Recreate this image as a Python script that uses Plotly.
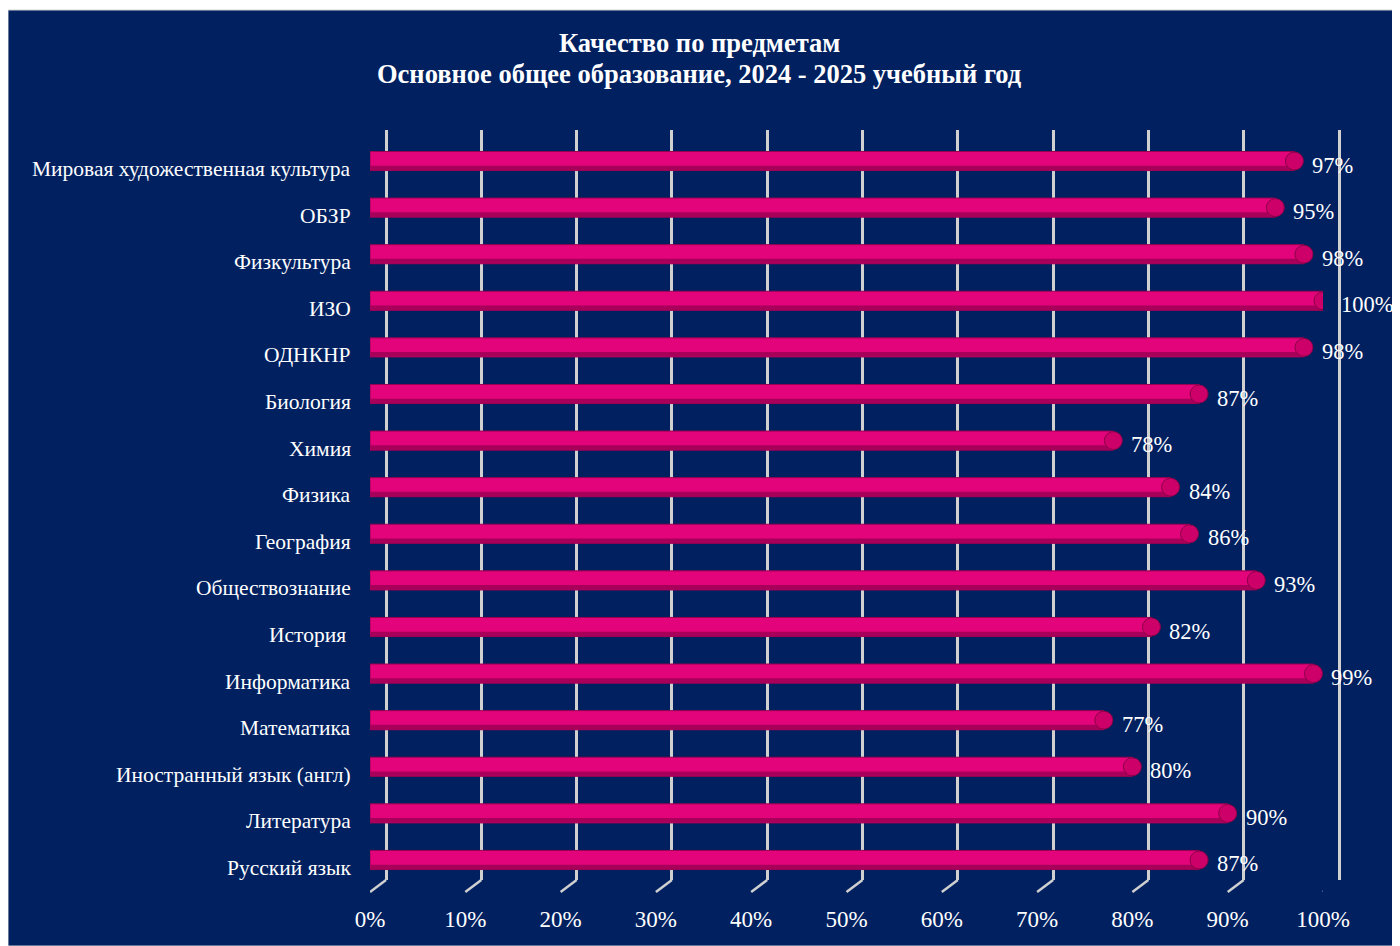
import plotly.graph_objects as go

# categories listed bottom -> top, as in the chart
subjects = [
    "Русский язык",
    "Литература",
    "Иностранный язык (англ)",
    "Математика",
    "Информатика",
    "История\u00a0",
    "Обществознание",
    "География",
    "Физика",
    "Химия",
    "Биология",
    "ОДНКНР",
    "ИЗО",
    "Физкультура",
    "ОБЗР",
    "Мировая художественная культура",
]
quality = [87, 90, 80, 77, 99, 82, 93, 86, 84, 78, 87, 98, 100, 98, 95, 97]
tick_vals = [0, 10, 20, 30, 40, 50, 60, 70, 80, 90, 100]
tick_text = ["0%", "10%", "20%", "30%", "40%", "50%", "60%", "70%", "80%", "90%", "100%"]

title_1 = "Качество по предметам"
title_2 = "Основное общее образование, 2024 - 2025 учебный год"

# figure starts after the page's 8px body margin and runs to the window edge
OFF = 8
W, H = 1400 - OFF, 946 - OFF
BG = "#002060"
GRID = "#D0D0D0"
FONT = "Liberation Serif, Times New Roman, serif"
PX10 = 95.3  # pixels per 10 %


def px_x(x):
    return (x - OFF) / W


def px_y(y):
    return 1 - (y - OFF) / H


fig = go.Figure()

# invisible trace so the back-wall grid subplot (x/y) is drawn first
fig.add_trace(go.Scatter(
    x=[0, 100], y=[0, 1], mode="markers", marker=dict(opacity=0),
    hoverinfo="skip", xaxis="x", yaxis="y",
))

# cylinder-ish bars: body, lower shade, end caps
fig.add_trace(go.Bar(
    y=subjects, x=quality, orientation="h",
    width=0.41, offset=-0.205,
    marker=dict(color="#E3047B", line=dict(color="#9A0050", width=1)),
    hoverinfo="skip", xaxis="x2", yaxis="y2",
))
fig.add_trace(go.Bar(
    y=subjects, x=quality, orientation="h",
    width=0.1, offset=-0.2,
    marker=dict(color="#A8005A", line=dict(width=0)),
    hoverinfo="skip", xaxis="x2", yaxis="y2",
))
fig.add_trace(go.Scatter(
    y=subjects, x=quality, mode="markers",
    marker=dict(symbol="circle", size=18, color="#CC0068",
                line=dict(color="#8B0047", width=1)),
    hoverinfo="skip", xaxis="x2", yaxis="y2",
))

annotations = []
# category labels (sit a little below the bar centres, like the 3D floor)
for s in subjects:
    annotations.append(dict(
        x=px_x(353), xref="paper", xanchor="right",
        y=s, yref="y2", yanchor="middle", yshift=-8,
        text=s, showarrow=False,
        font=dict(family=FONT, size=21.5, color="white"),
    ))
# value labels
for s, v in zip(subjects, quality):
    annotations.append(dict(
        x=v, xref="x2", xanchor="left", xshift=16,
        y=s, yref="y2", yanchor="middle", yshift=-4,
        text=f"{v}%", showarrow=False,
        font=dict(family=FONT, size=22.5, color="white"),
    ))
# titles
annotations.append(dict(
    x=px_x(699), y=px_y(43), xref="paper", yref="paper",
    xanchor="center", yanchor="middle",
    text=f"<b>{title_1}</b>", showarrow=False,
    font=dict(family=FONT, size=26.5, color="white"),
))
annotations.append(dict(
    x=px_x(699), y=px_y(74), xref="paper", yref="paper",
    xanchor="center", yanchor="middle",
    text=f"<b>{title_2}</b>", showarrow=False,
    font=dict(family=FONT, size=26.5, color="white"),
))

shapes = [
    # navy chart area
    dict(type="rect", xref="paper", yref="paper",
         x0=px_x(8), x1=1, y0=0, y1=px_y(10),
         fillcolor=BG, line=dict(color="#D0D0D0", width=1), layer="below"),
]
# floor diagonals from front tick to the back-wall gridline
for t in tick_vals:
    shapes.append(dict(
        type="line", xref="x2", xsizemode="pixel", xanchor=t,
        x0=0, x1=16,
        yref="paper", ysizemode="pixel", yanchor=px_y(892),
        y0=0, y1=12,
        line=dict(color=GRID, width=2.5),
    ))

fig.update_layout(
    width=W, height=H,
    margin=dict(l=0, r=0, t=0, b=0, autoexpand=False),
    paper_bgcolor="white",
    plot_bgcolor="rgba(0,0,0,0)",
    barmode="overlay",
    showlegend=False,
    # back wall gridlines (range padded so 0 % and 100 % lines are drawn)
    xaxis=dict(
        domain=[px_x(386 - PX10 / 10), px_x(1339 + PX10 / 10)],
        range=[-1, 101], anchor="y", automargin=False,
        tickvals=tick_vals, showticklabels=False,
        showgrid=True, gridcolor=GRID, gridwidth=2.5,
        zeroline=False, showline=False,
    ),
    yaxis=dict(
        domain=[px_y(880), px_y(130)], range=[0, 1], anchor="x",
        automargin=False,
        showticklabels=False, showgrid=False, zeroline=False, showline=False,
    ),
    # bars and the value axis labels
    xaxis2=dict(
        domain=[px_x(370), px_x(1323)], range=[0, 100], anchor="y2",
        automargin=False,
        tickvals=tick_vals, ticktext=tick_text,
        tickfont=dict(family=FONT, size=23, color="white"),
        ticks="outside", ticklen=6, tickcolor="rgba(0,0,0,0)",
        showgrid=False, zeroline=False, showline=False,
    ),
    yaxis2=dict(
        domain=[px_y(892), px_y(138)], range=[-0.687, 15.494],
        anchor="x2", automargin=False, showticklabels=False, showgrid=False,
        zeroline=False, showline=False,
    ),
    annotations=annotations,
    shapes=shapes,
)

fig.write_html("out.html")
